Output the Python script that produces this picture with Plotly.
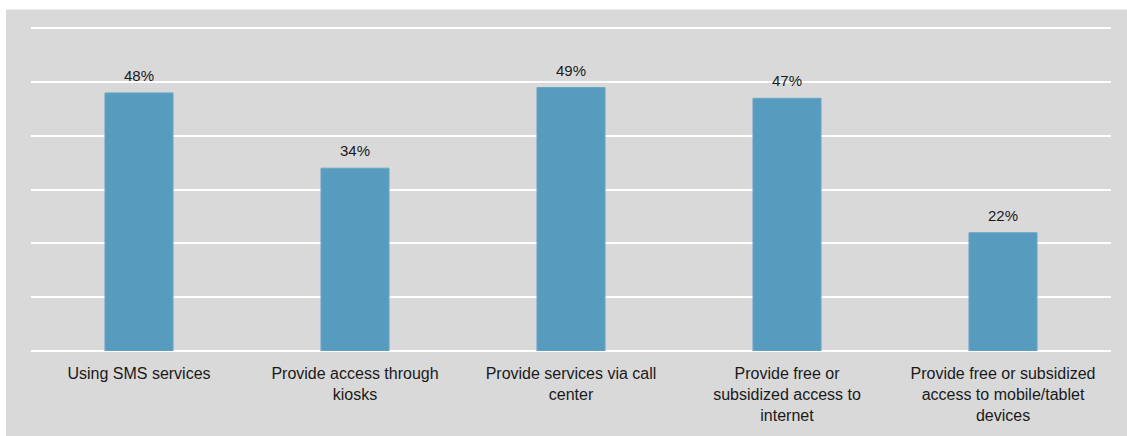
import plotly.graph_objects as go

categories = [
    "Using SMS services",
    "Provide access through<br>kiosks",
    "Provide services via call<br>center",
    "Provide free or<br>subsidized access to<br>internet",
    "Provide free or subsidized<br>access to mobile/tablet<br>devices",
]
values = [48, 34, 49, 47, 22]
labels = ["48%", "34%", "49%", "47%", "22%"]

W, H = 1127, 436
YMAX = 61
unit = 325.6 / 60
L, R, B = 31, 16, 82.5
T = 28 - (YMAX - 60) * unit
pw, ph = W - L - R, H - T - B
FONT = "Liberation Sans, Arial, sans-serif"

fig = go.Figure(
    go.Bar(
        x=categories,
        y=values,
        marker=dict(color="#579bbf", line=dict(color="#6aa7c8", width=1)),
        width=0.315,
    )
)

for c, v, t in zip(categories, values, labels):
    fig.add_annotation(x=c, y=v, text=t, showarrow=False, yanchor="bottom", yshift=7,
                       font=dict(family=FONT, size=15, color="#1a1a1a"))

gray = "#d9d9d9"
fig.add_shape(
    type="rect", xref="paper", yref="paper", layer="below",
    x0=(6 - L) / pw, x1=(W - L + 5) / pw,
    y0=-(B + 5) / ph, y1=1 + (T - 9) / ph,
    fillcolor=gray, line=dict(width=0),
)

fig.update_layout(
    width=W, height=H,
    margin=dict(l=L, r=R, t=T, b=B),
    paper_bgcolor="white",
    plot_bgcolor=gray,
    showlegend=False,
    font=dict(family=FONT, size=16, color="#1a1a1a"),
    xaxis=dict(showgrid=False, showline=False, ticks="", tickfont=dict(size=16),
               ticklabelstandoff=11),
    yaxis=dict(range=[0, YMAX], tickvals=[0, 10, 20, 30, 40, 50, 60], showgrid=True,
               gridcolor="white", gridwidth=2,
               zeroline=True, zerolinecolor="white", zerolinewidth=2,
               showticklabels=False, showline=False),
)

fig.write_html("out.html")
